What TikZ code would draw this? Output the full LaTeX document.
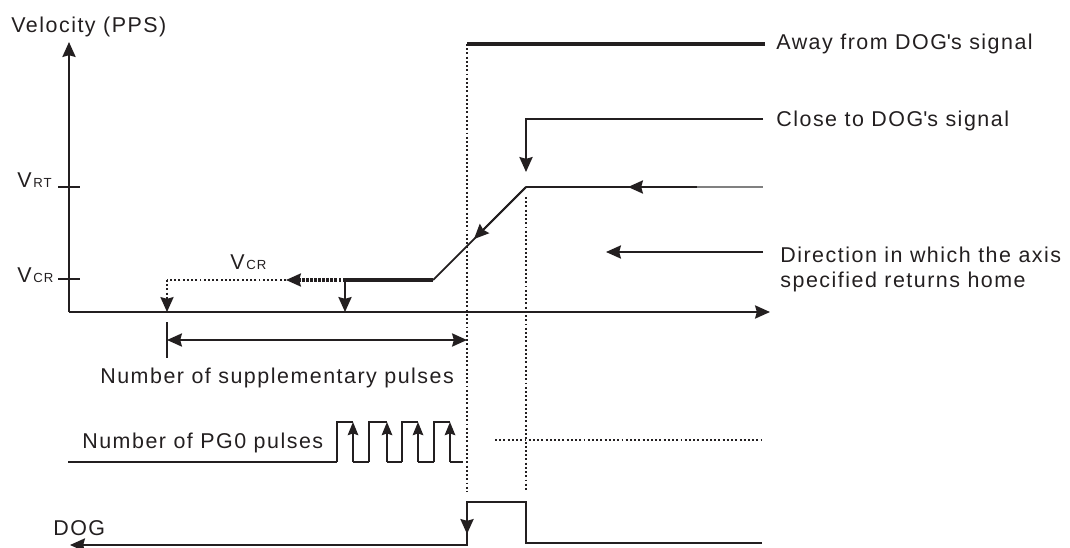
\documentclass[tikz,border=0pt]{standalone}
\usepackage{fontspec}
\setmainfont{Liberation Sans}[LetterSpace=7]
\usetikzlibrary{arrows.meta, positioning, calc}
\definecolor{InkBlack}{HTML}{231F20}
\newcommand{\vsub}[1]{V\kern1pt{\fontsize{7.5}{9}\selectfont #1}}

\begin{document}
\begin{tikzpicture}[
  x=0.02cm, y=-0.02cm,
  line/.style={line width=1.1pt, InkBlack},
  heavy/.style={line width=2.3pt, InkBlack},
  dotline/.style={line width=0.9pt, InkBlack, dash pattern=on 1.1pt off 1.3pt},
  arr/.style={-{Stealth[length=8.5pt, width=7.5pt, inset=1pt]}},
  parr/.style={-{Stealth[length=7.5pt, width=6pt, inset=1pt]}},
  lbl/.style={anchor=base west, inner sep=0pt, text=InkBlack,
              font=\fontsize{12.2}{14}\selectfont},
]
\useasboundingbox (0,0) rectangle (1070,547);

% axes
\coordinate (O) at (69,312);
\coordinate (ytop) at (69,42);
\coordinate (xend) at (770,312);
\draw[line, arr] (O) -- (ytop);
\draw[line, arr] (O) -- (xend);
\draw[line] (58,187) -- (80,187);
\draw[line] (58,279) -- (80,279);

\node[lbl] (vel) at (11,33) {Velocity (PPS)};
\node[lbl] (vrt) at (17,188) {\vsub{RT}};
\node[lbl] (vcr) at (17,282) {\vsub{CR}};

% DOG markers
\coordinate (away) at (467,44);
\coordinate (close) at (526,187);
\coordinate (slow) at (433,280);
\coordinate (stop) at (345,280);
\coordinate (home) at (167,280);

\draw[heavy] (away) -- (765,44);
\node[lbl] (awaytxt) at (776,50) {Away from DOG\textquotesingle s signal};
\draw[dotline] (away) -- (467,492);

\draw[line, arr] (763,119) -| ([yshift=0.3cm]close);
\node[lbl] (closetxt) at (776,127) {Close to DOG\textquotesingle s signal};
\draw[dotline] ([yshift=-0.2cm]close) -- (526,492);

% velocity profile
\draw[gray, line width=0.8pt] (697,187) -- (763,187);
\draw[line] (close) -- (697,187);
\draw[line, arr] (697,187) -- (628,187);
\draw[line width=1pt, InkBlack] (close) -- (slow);
\draw[line, arr] (close) -- ($(close)!0.56!(slow)$);
\draw[heavy] (stop) -- (slow);
\draw[line, arr] (stop) -- (stop |- O);
\draw[dotline, line width=2.4pt, dash pattern=on 1.4pt off 0.9pt] (stop) -- (298,280);
\draw[line, arr] (298,280) -- (286,280);
\draw[dotline] (290,280) -- (home);
\draw[dotline, arr] (home) -- (home |- O);
\node[lbl] (vcrtxt) at (230,269) {\vsub{CR}};

\draw[line, arr] (763,252) -- (606,252);
\node[lbl] (dir1) at (780,262) {Direction in which the axis};
\node[lbl] (dir2) at (780,287) {specified returns home};

% supplementary pulses
\draw[line] (167,322) -- (167,358);
\draw[line, {Stealth[length=8.5pt, width=7.5pt, inset=1pt]}-{Stealth[length=8.5pt, width=7.5pt, inset=1pt]}]
  (167,340) -- (away |- 0,340);
\node[lbl] (supp) at (100,383) {Number of supplementary pulses};

% PG0 pulses
\node[lbl] (pg0) at (82,448) {Number of PG0 pulses};
\draw[line] (68,462) -- (337,462);
\foreach \r/\f/\n in {337/353/369, 369/387/402, 402/418/434, 434/450/463} {
  \draw[line] (\r,462) -- (\r,422) -- (\f,422);
  \draw[line, parr] (\f,462) -- (\f,422);
  \draw[line] (\f,462) -- (\n,462);
}
\draw[dotline] (495,440) -- (762,440);

% DOG signal
\node[lbl] (dog) at (53,535) {DOG};
\draw[line, arr] (762,543) -- (526,543) -- (526,502) -- (467,502)
  -- (467,545) -- (70,545);
\draw[line, arr] (467,502) -- (467,534);

\end{tikzpicture}
\end{document}
